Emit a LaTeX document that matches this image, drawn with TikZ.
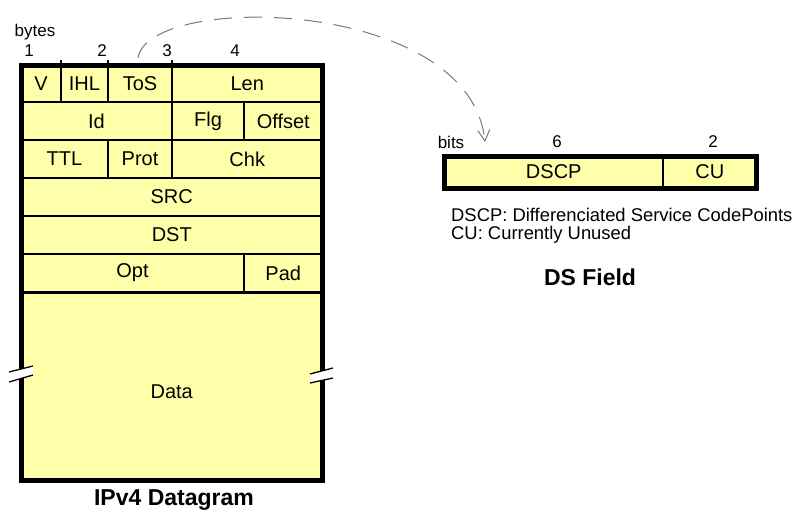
\documentclass[tikz,border=0pt]{standalone}
\usepackage{fontspec}
\setmainfont{Liberation Sans}
\usepackage{tikz}
\usetikzlibrary{positioning,arrows.meta}
\usepackage{xcolor}
\definecolor{fieldyellow}{RGB}{255,255,170}
\definecolor{arcgray}{RGB}{120,120,120}

\begin{document}
\begin{tikzpicture}[x=1pt, y=-1pt]
        % Define block styles
        \tikzstyle{field} = [rectangle, draw, fill=fieldyellow, line width=1.3pt, inner sep=0pt, outer sep=0pt, anchor=north west, minimum height=38pt, font=\fontsize{20}{24}\selectfont]
        \tikzstyle{small} = [inner sep=0pt, font=\fontsize{17}{20}\selectfont]
        \tikzstyle{title} = [inner sep=0pt, font=\fontsize{23}{27}\selectfont\bfseries]
        \tikzstyle{frame} = [draw, line width=5pt]
        \tikzstyle{cut} = [fill=white, draw=none]
        \tikzstyle{line} = [draw, arcgray, line width=1pt, dash pattern=on 18pt off 12pt, -{Straight Barb[length=11pt, width=12pt]}]

        \useasboundingbox (0,0) rectangle (798,514);

        % IPv4 header
        \node [field, minimum width=40pt, minimum height=37pt] (v) at (21,65) {V};
        \node [field, minimum width=47pt, minimum height=37pt, right=0pt of v] (ihl) {IHL};
        \node [field, minimum width=64pt, minimum height=37pt, right=0pt of ihl] (tos) {ToS};
        \node [field, minimum width=150.5pt, minimum height=37pt, right=0pt of tos] (len) {Len};

        \node [field, minimum width=151pt] (id) at (v.south west) {Id};
        \node [field, minimum width=72pt, right=0pt of id] (flg) {Flg};
        \node [field, minimum width=78.5pt, right=0pt of flg] (offset) {Offset};

        \node [field, minimum width=87pt] (ttl) at (id.south west) {TTL};
        \node [field, minimum width=64pt, right=0pt of ttl] (prot) {Prot};
        \node [field, minimum width=150.5pt, right=0pt of prot] (chk) {Chk};

        \node [field, minimum width=301.5pt] (src) at (ttl.south west) {SRC};
        \node [field, minimum width=301.5pt] (dst) at (src.south west) {DST};

        \node [field, minimum width=223pt] (opt) at (dst.south west) {Opt};
        \node [field, minimum width=78.5pt, right=0pt of opt] (pad) {Pad};

        \node [field, minimum width=301.5pt, minimum height=188pt] (data) at (opt.south west) {};
        \node [field, draw=none, fill=none, anchor=center] (datatext) at ([yshift=-6pt]data.center) {Data};
        \draw [line width=3pt] (data.north west) -- (data.north east);

        % Outer frame and cuts
        \draw [frame] (v.north west) rectangle (data.south east);
        \path [cut] (9,372) -- (33,366) -- (33,375) -- (9,382) -- cycle;
        \draw [line width=1.3pt] (9,372) -- (33,366) (9,382) -- (33,375);
        \path [cut] (310,374) -- (333,368) -- (333,378) -- (310,383) -- cycle;
        \draw [line width=1.3pt] (310,374) -- (333,368) (310,383) -- (333,378);

        % Byte ticks and labels
        \draw [line width=1.3pt] (v.north east) -- ++(0,-5);
        \draw [line width=1.3pt] (ihl.north east) -- ++(0,-5);
        \draw [line width=1.3pt] (tos.north east) -- ++(0,-5);
        \node [small] (bytes) at (35,32) {bytes};
        \node [small] (b1) at (29,51) {1};
        \node [small] (b2) at (102,51) {2};
        \node [small] (b3) at (167,51) {3};
        \node [small] (b4) at (235,51) {4};

        % DS field
        \node [field, minimum width=218.5pt, minimum height=32pt] (dscp) at (444.5,156) {DSCP};
        \node [field, minimum width=93.5pt, minimum height=32pt, right=0pt of dscp] (cu) {CU};
        \draw [frame] (dscp.north west) rectangle (cu.south east);
        \node [small] (bits) at (451,142) {bits};
        \node [small] (n6) at (557,142) {6};
        \node [small] (n2) at (713,142) {2};

        % Text labels
        \node [small, anchor=west, font=\fontsize{18.4}{21}\selectfont] (legend1) at (451,215) {DSCP: Differenciated Service CodePoints};
        \node [small, anchor=west, font=\fontsize{18.4}{21}\selectfont] (legend2) at (451,235) {CU: Currently Unused};
        \node [title] (dstitle) at (590,277) {DS Field};
        \node [title] (iptitle) at (174,500) {IPv4 Datagram};

        % Arrows
        \coordinate (arcstart) at (138,58);
        \coordinate (arcend) at (485,142);
        \path [line] (arcstart) .. controls (148,-8) and (470,-3) .. (arcend);

    \end{tikzpicture}
\end{document}
